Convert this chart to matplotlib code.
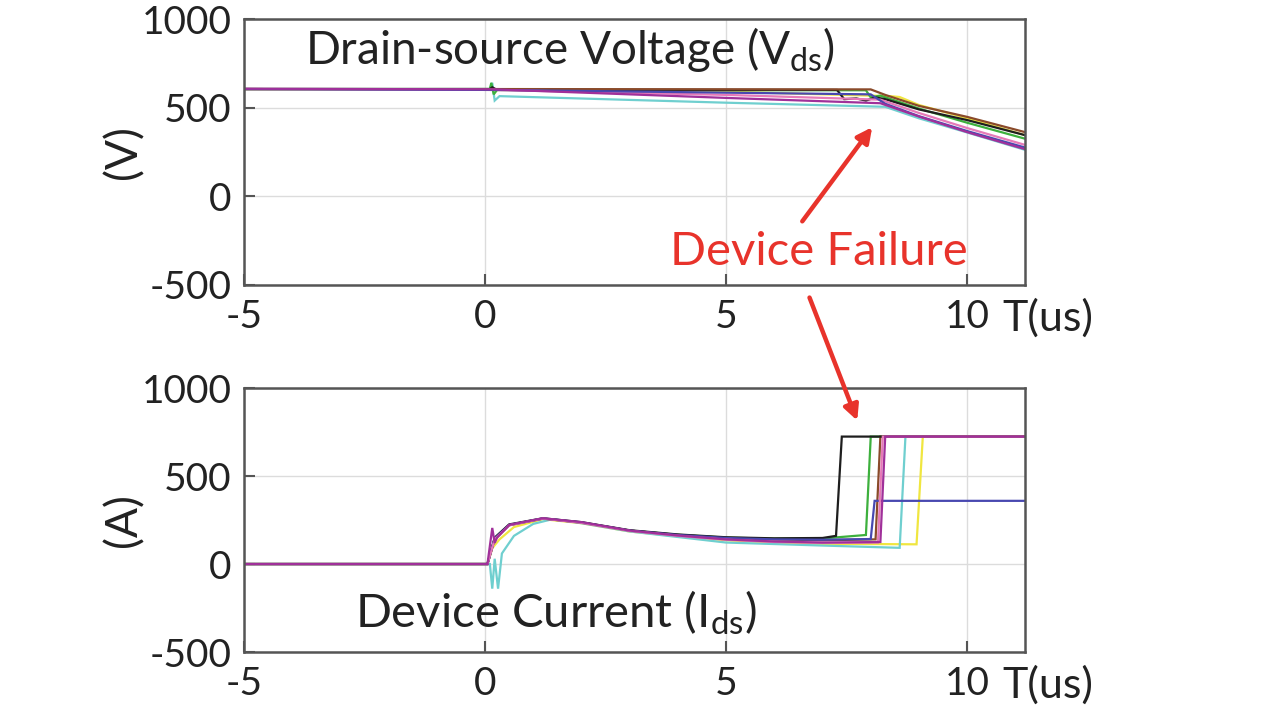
import matplotlib
matplotlib.use("Agg")
import matplotlib.pyplot as plt

plt.rcParams['font.family'] = ['Lato', 'DejaVu Sans']

# ---------------- data ----------------
x_ticks = [-5, 0, 5, 10]
y_ticks = [-500, 0, 500, 1000]

# Drain-source voltage traces (time in us, volts)
vds_black_t = [-5, 0.1, 0.15, 0.25, 7.3, 7.45, 7.7, 7.9, 8.1, 8.3, 9.0, 10.0, 11.2]
vds_black = [605, 605, 615, 600, 600, 548, 552, 540, 558, 548, 490, 430, 345]
vds_brown_t = [-5, 0.1, 8.0, 8.3, 9.0, 10.0, 11.2]
vds_brown = [605, 605, 603, 572, 510, 448, 362]
vds_green_t = [-5, 0.1, 0.13, 0.18, 0.25, 7.9, 8.0, 8.2, 9.0, 10.0, 11.2]
vds_green = [605, 605, 640, 575, 600, 598, 558, 568, 495, 415, 325]
vds_yellow_t = [-5, 0.25, 5.0, 8.4, 8.6, 9.0, 10.0, 11.2]
vds_yellow = [605, 600, 590, 565, 560, 515, 440, 345]
vds_cyan_t = [-5, 0.1, 0.15, 0.2, 0.3, 5.0, 8.3, 9.0, 10.0, 11.2]
vds_cyan = [605, 605, 640, 540, 565, 528, 505, 440, 360, 262]
vds_pink_t = [-5, 0.2, 5.0, 8.2, 9.0, 10.0, 11.2]
vds_pink = [605, 600, 572, 545, 470, 385, 290]
vds_magenta_t = [-5, 0.2, 5.0, 8.2, 9.0, 10.0, 11.2]
vds_magenta = [607, 603, 555, 525, 450, 362, 266]
vds_blue_t = [-5, 0.2, 8.0, 8.3, 9.0, 10.0, 11.2]
vds_blue = [605, 600, 575, 522, 452, 368, 275]

# Device current traces (time in us, amps)
ids_black_t = [-5, 0.05, 0.2, 0.5, 1.2, 2, 3, 4, 5, 6, 7, 7.28, 7.40, 11.2]
ids_black = [0, 0, 150, 225, 260, 238, 192, 168, 152, 146, 148, 160, 724, 724]
ids_brown_t = [-5, 0.05, 0.2, 0.5, 1.2, 2, 3, 4, 5, 6, 7, 8.1, 8.2, 11.2]
ids_brown = [0, 0, 140, 220, 258, 235, 190, 165, 148, 140, 135, 140, 724, 724]
ids_green_t = [-5, 0.05, 0.2, 0.5, 1.2, 2, 3, 4, 5, 6, 7, 7.9, 8.0, 11.2]
ids_green = [0, 0, 145, 222, 258, 236, 190, 166, 150, 144, 145, 165, 724, 724]
ids_yellow_t = [-5, 0.05, 0.15, 0.3, 0.6, 1.2, 2, 3, 4, 5, 6, 7, 8.95, 9.08, 11.2]
ids_yellow = [0, 0, 90, 140, 210, 255, 232, 185, 158, 135, 122, 115, 112, 724, 724]
ids_cyan_t = [-5, 0.1, 0.15, 0.2, 0.27, 0.35, 0.6, 1.0, 1.4, 2, 3, 5, 7, 8.6, 8.72, 11.2]
ids_cyan = [0, 0, -140, 30, -140, 60, 160, 228, 255, 232, 185, 122, 105, 92, 724, 724]
ids_pink_t = [-5, 0.05, 0.2, 0.5, 1.2, 2, 3, 4, 5, 6, 7, 8.15, 8.25, 11.2]
ids_pink = [0, 0, 140, 220, 258, 234, 188, 160, 138, 125, 120, 122, 724, 724]
ids_magenta_t = [-5, 0.05, 0.15, 0.2, 0.25, 0.5, 1.2, 2, 3, 4, 5, 6, 7, 8.2, 8.3, 11.2]
ids_magenta = [0, 0, 205, 120, 150, 222, 260, 238, 190, 162, 140, 128, 122, 125, 724, 724]
ids_blue_t = [-5, 0.05, 0.2, 0.5, 1.2, 2, 3, 4, 5, 6, 7, 8.0, 8.08, 11.2]
ids_blue = [0, 0, 145, 222, 259, 236, 190, 165, 148, 140, 138, 142, 359, 359]

trace_colors = {
    'black': '#1e1e1e', 'brown': '#8a4a2a', 'green': '#3db03d', 'yellow': '#f0e640',
    'cyan': '#6fcfcf', 'pink': '#e67ab8', 'blue': '#4848b0', 'magenta': '#a0309a',
}

vds_traces = [
    ('cyan', vds_cyan_t, vds_cyan), ('yellow', vds_yellow_t, vds_yellow),
    ('green', vds_green_t, vds_green), ('black', vds_black_t, vds_black),
    ('brown', vds_brown_t, vds_brown), ('pink', vds_pink_t, vds_pink),
    ('blue', vds_blue_t, vds_blue), ('magenta', vds_magenta_t, vds_magenta),
]
ids_traces = [
    ('yellow', ids_yellow_t, ids_yellow), ('cyan', ids_cyan_t, ids_cyan),
    ('green', ids_green_t, ids_green), ('brown', ids_brown_t, ids_brown),
    ('black', ids_black_t, ids_black), ('blue', ids_blue_t, ids_blue),
    ('pink', ids_pink_t, ids_pink), ('magenta', ids_magenta_t, ids_magenta),
]

# ---------------- figure ----------------
fig = plt.figure(figsize=(12.8, 7.2), dpi=100)
ax1 = fig.add_axes([0.1906, 0.6042, 0.6102, 0.3694])
ax2 = fig.add_axes([0.1906, 0.0944, 0.6102, 0.3667])

TICK_FS = 28
TEXT_FS = 34
edge = '#555555'
ink = '#222222'
red = '#e8332b'

for ax, traces, ylab in [(ax1, vds_traces, '(V)'), (ax2, ids_traces, '(A)')]:
    for name, t, v in traces:
        ax.plot(t, v, color=trace_colors[name], lw=1.6, solid_joinstyle='miter')
    ax.set_xlim(-5, 11.2)
    ax.set_ylim(-500, 1000)
    ax.set_xticks(x_ticks)
    ax.set_yticks(y_ticks)
    ax.set_xticklabels([str(v) for v in x_ticks])
    ax.set_yticklabels([str(v) for v in y_ticks])
    ax.grid(True, color='#dcdcdc', lw=1.0)
    ax.set_axisbelow(True)
    ax.tick_params(direction='in', length=8, width=1.5, color=edge,
                   labelsize=TICK_FS, labelcolor=ink)
    ax.tick_params(axis='x', pad=10)
    ax.tick_params(axis='y', pad=9)
    for s in ax.spines.values():
        s.set_color(edge)
        s.set_linewidth(1.8)
    ax.set_ylabel(ylab, fontsize=32, color=ink, labelpad=-2)
    ax.text(10.74, -0.125, 'T(us)', transform=ax.get_xaxis_transform(),
            fontsize=31, ha='left', va='center', color=ink)

ax1.text(-3.73, 830, r'Drain-source Voltage (V$_\mathregular{ds}$)', fontsize=33,
         ha='left', va='center', color=ink)
ax2.text(-2.7, -279, r'Device Current (I$_\mathregular{ds}$)', fontsize=TEXT_FS,
         ha='left', va='center', color=ink)
ax1.text(6.92, -316, 'Device Failure', fontsize=TEXT_FS, ha='center', va='center', color=red)

arrow_kw = dict(arrowstyle='-|>,head_length=0.9,head_width=0.45', color=red, lw=3.2,
                shrinkA=0, shrinkB=0)
ax1.annotate('', xy=(8.03, 390), xytext=(6.58, -141), arrowprops=arrow_kw,
             annotation_clip=False)
ax2.annotate('', xy=(7.72, 815), xycoords=ax2.transData,
             xytext=(6.73, -571), textcoords=ax1.transData,
             arrowprops=arrow_kw, annotation_clip=False)

fig.savefig('out.png', dpi=100, facecolor='white')
